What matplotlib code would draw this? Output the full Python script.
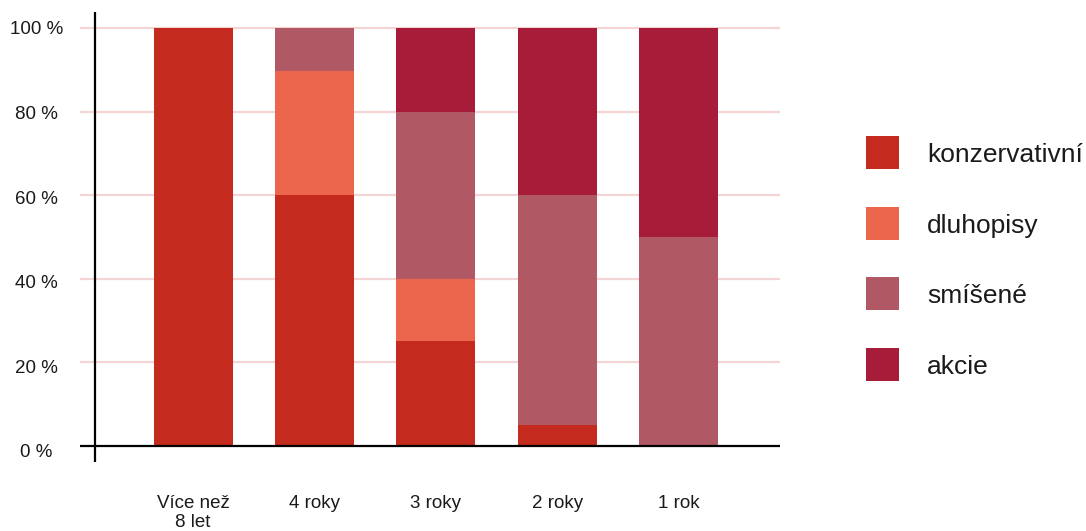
import matplotlib
matplotlib.use("Agg")
import matplotlib.pyplot as plt
from matplotlib.patches import Rectangle
import numpy as np

categories = ["Více než\n8 let", "4 roky", "3 roky", "2 roky", "1 rok"]
series_names = ["konzervativní", "dluhopisy", "smíšené", "akcie"]
konzervativni = [100, 60, 25, 5, 0]
dluhopisy = [0, 29.7, 15, 0, 0]
smisene = [0, 10.3, 40, 55, 50]
akcie = [0, 0, 20, 40, 50]
yticks = [0, 20, 40, 60, 80, 100]
ytick_labels = ["0 %", "20 %", "40 %", "60 %", "80 %", "100 %"]

colors = ["#C42A1E", "#EC654D", "#B05863", "#A71D39"]
grid_color = "#F4D4D4"
text_color = "#1a1a1a"

plt.rcParams['font.family'] = ['Liberation Sans', 'DejaVu Sans']

W, H = 1086, 531
fig = plt.figure(figsize=(W / 100, H / 100), dpi=100)
ax = fig.add_axes([80 / W, (H - 462) / H, 700 / W, 450 / H])

spacing = (678.5 - 193) / 4
x = np.arange(len(categories))
ax.set_xlim(-(193 - 80) / spacing, 4 + (780 - 678.5) / spacing)
ppu = (445.7 - 28) / 100
ax.set_ylim(-(462 - 445.7) / ppu, 100 + (28 - 12) / ppu)

for s in ax.spines.values():
    s.set_visible(False)

for t in yticks[1:]:
    ax.axhline(t, color=grid_color, lw=1.6, zorder=0)

width = 79 / spacing
bottom = np.zeros(len(categories))
for name, vals, c in zip(series_names, [konzervativni, dluhopisy, smisene, akcie], colors):
    ax.bar(x, vals, width=width, bottom=bottom, color=c, zorder=2, linewidth=0)
    bottom = bottom + np.array(vals)

ax.axhline(0, color="black", lw=1.6, zorder=3)
ax.axvline((95 - 193) / spacing, color="black", lw=1.6, zorder=3)

ax.set_yticks([])
for t, lab in zip(yticks, ytick_labels):
    off_px = 2 + 0.05 * (100 - t)
    ax.annotate(lab, xy=((36.5 - 80) / 700, t), xycoords=ax.get_yaxis_transform(),
                xytext=(0, -off_px * 0.72), textcoords='offset points',
                ha='center', va='center', fontsize=13.5, color=text_color,
                annotation_clip=False)

ax.set_xticks(x)
ax.set_xticklabels(categories, fontsize=13.5, color=text_color, va='top',
                   ha='center', linespacing=1.15)
ax.tick_params(axis='x', length=0, pad=23.5)

# legend
for i, (name, c) in enumerate(zip(series_names, colors)):
    top = 136 + i * 70.7
    fig.add_artist(Rectangle((866 / W, (H - top - 33) / H), 33 / W, 33 / H,
                             transform=fig.transFigure, color=c, lw=0))
    fig.text(927 / W, (H - (top + 26)) / H, name, fontsize=19,
             color=text_color, ha='left', va='baseline')

fig.savefig("out.png", dpi=100)
